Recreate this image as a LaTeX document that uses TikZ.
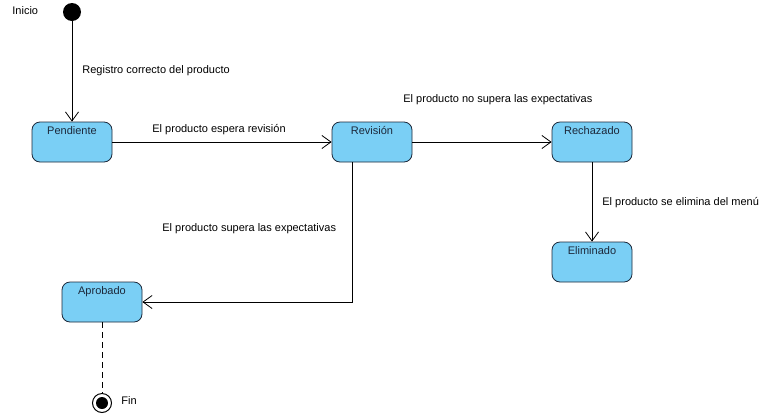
\documentclass[tikz,border=0pt]{standalone}
\usepackage{fontspec}
\setmainfont{Liberation Sans}
\usetikzlibrary{arrows.meta,positioning}
\definecolor{statefill}{RGB}{122,207,245}
\definecolor{stateline}{RGB}{28,40,58}
\tikzset{every node/.style={font=\fontsize{11}{13}\selectfont}}
\tikzset{estado/.style={shape=rectangle, rounded corners=8pt, draw=stateline,
    fill=statefill, line width=.8pt, minimum width=80pt, inner ysep=4pt,
    text height=8pt, text depth=24pt, text=stateline}}
\tikzset{inicial/.style={shape=circle, fill=black, inner sep=0pt, minimum size=18pt}}
\tikzset{etiqueta/.style={anchor=west, inner sep=0pt}}

\begin{document}
\begin{tikzpicture}[x=1pt, y=-1pt, line width=.8pt,
    >={Straight Barb[length=9pt,width=13pt,line width=.8pt]}]
    \useasboundingbox (0,0) rectangle (773,416);
    \node[inicial] (ini) at (72,12) {};
    \node[estado] (pen) at (72,142) {Pendiente};
    \node[estado] (rev) at (372,142) {Revisión};
    \node[estado] (rec) at (592,142) {Rechazado};
    \node[estado] (eli) at (592,262) {Eliminado};
    \node[estado] (apr) at (102,302) {Aprobado};
    \node[shape=circle, draw, fill=white, line width=1pt, inner sep=0pt, minimum size=19pt] (fin) at (102,403) {};
    \node[shape=circle, fill=black, inner sep=0pt, minimum size=12pt] (finc) at (fin) {};
    \draw[->] (ini) -- (pen);
    \draw[->] (pen) -- (rev);
    \draw[->] (rev) -- (rec);
    \draw[->] (rec) -- (eli);
    \draw[->] ([xshift=-20pt]rev.south) |- (apr.east);
    \draw[dash pattern=on 6pt off 4pt] (apr) -- (fin);
%    textos
    \node[etiqueta] (tini) at (12,11) {Inicio};
    \node[etiqueta] (treg) at (82,71) {Registro correcto del producto};
    \node[etiqueta] (tesp) at (152,130) {El producto espera revisión};
    \node[etiqueta] (tnos) at (403,100) {El producto no supera las expectativas};
    \node[etiqueta] (tsel) at (602,203) {El producto se elimina del menú};
    \node[etiqueta] (tsup) at (162,229) {El producto supera las expectativas};
    \node[etiqueta] (tfin) at (121,401) {Fin};
\end{tikzpicture}
\end{document}
